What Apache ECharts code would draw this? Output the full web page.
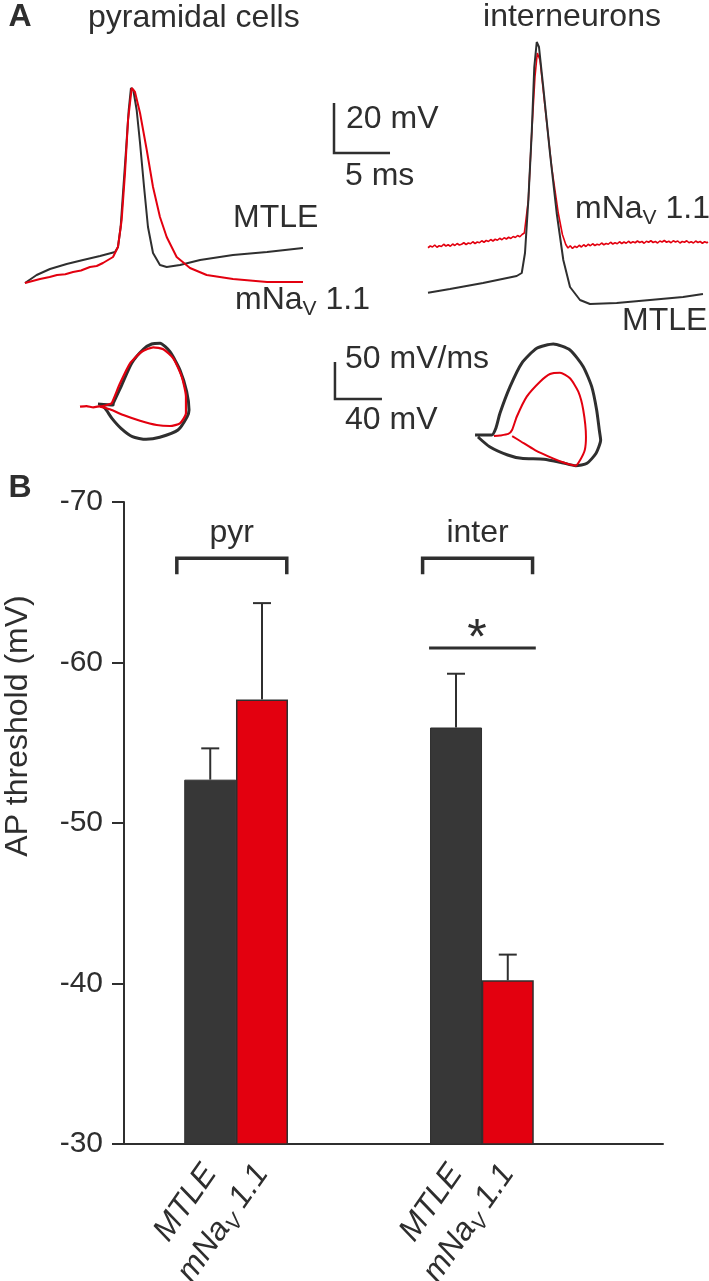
<!DOCTYPE html>
<html><head><meta charset="utf-8">
<script src="https://cdn.jsdelivr.net/npm/echarts@6/dist/echarts.min.js"></script>
<style>html,body{margin:0;padding:0;background:#fff}#c{width:709px;height:1281px}</style>
</head><body><div id="c"></div><script>
// ---------------- DATA ----------------
// Panel B: AP threshold (mV), mean and SEM
const groups = ['pyr', 'inter'];
const conditions = ['MTLE', 'mNaV 1.1'];
const mtleMean = [-52.7, -55.95];
const mtleSem = [1.95, 3.35];
const navMean = [-57.7, -40.2];
const navSem = [6.0, 1.6];
const significant = [false, true];
const yTicks = [-70, -60, -50, -40, -30];

// Panel A: example action potentials [time (ms), membrane potential (mV)]
const pyrTraceMTLE = [[0,-68.4],[1.04,-65.2],[2.23,-62.8],[3.72,-60.8],[5.18,-59.2],[6.70,-57.6],[8.04,-56.0],[8.30,-54.0],[8.54,-46.0],[8.75,-32.4],[9.02,-15.2],[9.26,0.8],[9.46,9.6],[9.67,8.8],[9.97,0.8],[10.27,-12.4],[10.63,-30.0],[10.98,-46.0],[11.43,-56.4],[12.05,-61.2],[12.65,-62.0],[13.84,-61.2],[15.63,-59.2],[18.57,-57.2],[21.61,-56.0],[24.82,-54.4]];
const pyrTraceNav = [[0,-68.4],[1.34,-66.8],[2.2,-66.0],[2.86,-65.2],[3.6,-64.9],[4.29,-64.0],[5.0,-63.4],[5.80,-62.0],[6.4,-61.6],[6.96,-60.4],[7.86,-58.0],[8.30,-54.0],[8.63,-43.2],[8.93,-24.4],[9.20,-3.2],[9.53,9.6],[9.82,8.0],[10.27,-0.4],[10.87,-15.2],[11.43,-30.0],[12.05,-42.0],[12.65,-50.0],[13.54,-58.0],[14.73,-62.4],[16.22,-65.2],[18.57,-66.8],[21.61,-68.0],[24.82,-68.0]];
const interTraceMTLE = [[0,-92.3],[1.96,-90.8],[4.91,-88.4],[7.92,-85.6],[8.37,-84.4],[8.66,-76.4],[8.96,-55.2],[9.26,-28.4],[9.49,-2.0],[9.71,8.0],[9.91,6.0],[10.29,-10.0],[10.89,-36.4],[11.49,-60.4],[12.08,-79.2],[12.68,-90.0],[13.57,-95.2],[14.46,-96.8],[16.85,-96.4],[19.82,-95.2],[22.77,-94.0],[24.55,-92.8]];
const interTraceNav = [[0.0,-74.3],[0.2,-73.6],[0.4,-74.0],[0.6,-73.2],[0.8,-74.1],[1.0,-73.5],[1.2,-73.8],[1.4,-72.9],[1.6,-73.6],[1.8,-73.1],[2.0,-73.7],[2.2,-72.8],[2.4,-73.4],[2.6,-72.6],[2.8,-73.2],[3.0,-72.9],[3.2,-72.3],[3.4,-73.0],[3.6,-72.4],[3.8,-72.7],[4.0,-71.9],[4.2,-72.6],[4.4,-72.0],[4.6,-72.3],[4.8,-71.5],[5.0,-72.1],[5.2,-71.4],[5.4,-71.8],[5.6,-71.0],[5.8,-71.6],[6.0,-70.9],[6.2,-71.3],[6.4,-70.5],[6.6,-71.1],[6.8,-70.3],[7.0,-70.8],[7.2,-70.1],[7.4,-70.6],[7.6,-69.8],[7.8,-70.2],[8.0,-69.4],[8.2,-69.9],[8.4,-69.0],[8.6,-68.4],[8.96,-55.2],[9.26,-28.4],[9.55,-6.0],[9.76,3.6],[10.0,0.8],[10.45,-18.0],[11.04,-42.0],[11.63,-60.4],[12.0,-69.0],[12.3,-73.0],[12.5,-74.4],[12.7,-73.5],[12.9,-74.6],[13.1,-73.7],[13.3,-74.2],[13.5,-73.3],[13.7,-74.0],[13.9,-73.1],[14.1,-73.8],[14.3,-72.9],[14.5,-73.5],[14.7,-72.7],[14.9,-73.4],[15.1,-72.9],[15.3,-73.2],[15.5,-72.4],[15.7,-73.1],[15.9,-72.6],[16.1,-72.9],[16.3,-72.1],[16.5,-72.8],[16.7,-72.3],[16.9,-72.7],[17.1,-71.9],[17.3,-72.6],[17.5,-72.0],[17.7,-72.5],[17.9,-71.7],[18.1,-72.4],[18.3,-71.9],[18.5,-72.3],[18.7,-71.6],[18.9,-72.2],[19.1,-71.8],[19.3,-72.5],[19.5,-71.7],[19.7,-72.1],[19.9,-71.5],[20.1,-72.2],[20.3,-71.8],[20.5,-72.4],[20.7,-71.6],[20.9,-72.0],[21.1,-71.4],[21.3,-72.1],[21.5,-71.7],[21.7,-72.3],[21.9,-71.5],[22.1,-72.0],[22.3,-71.6],[22.5,-72.4],[22.7,-71.8],[22.9,-72.1],[23.1,-71.5],[23.3,-72.3],[23.5,-71.9],[23.7,-72.4],[23.9,-71.6],[24.1,-72.2],[24.3,-71.8],[24.5,-72.5],[24.7,-71.9],[24.9,-72.3],[25.0,-72.0]];

// Panel A: phase plots [membrane potential (mV), dV/dt (mV/ms)]
const pyrPhaseMTLE = [[-56.2,1.4],[-43.4,0],[-43.1,2.7],[-36.0,27.0],[-27.5,56.4],[-17.6,75.3],[-10.5,82.4],[-3.4,83.4],[5.1,72.0],[13.6,47.3],[19.3,18.0],[21.3,-6.8],[19.7,-15.8],[11.9,-33.8],[-3.6,-43.6],[-15.3,-46.4],[-26.9,-42.8],[-36.6,-31.5],[-44.3,-18.0],[-50.2,-4.5],[-54.5,0.7]];
const pyrPhaseNav = [[-71.5,-2.3],[-66,-1.5],[-60.2,-3.1],[-55,-1.8],[-51.7,-1.4],[-46.0,1.4],[-44.5,2.3],[-37.4,29.3],[-28.9,56.4],[-19.0,72.0],[-9.1,78.0],[-0.6,75.3],[7.9,63.1],[15.1,38.2],[18.7,11.2],[18.7,-11.2],[13.6,-24.7],[5.1,-28.4],[-6.2,-27.0],[-20.4,-21.2],[-34.6,-13.5],[-46.0,-5.8],[-54.5,-2.3]];
const interPhaseMTLE = [[-67.2,0],[-53.0,0],[-49.4,9.5],[-46.0,29.3],[-37.4,65.3],[-27.5,96.9],[-14.7,117.2],[-0.6,123.0],[13.6,114.9],[24.9,92.3],[32.1,65.3],[36.3,33.8],[38.7,5],[39.7,-6.8],[35.8,-24.7],[28.1,-38.2],[18.5,-41.5],[6.8,-37.4],[-8.5,-32.8],[-27.8,-31.5],[-39.4,-27.0],[-54.8,-15.8],[-64.7,-2.7]];
const interPhaseNav = [[-51.1,-1.4],[-46.0,-0.7],[-38.9,1.4],[-35.7,6.8],[-31.7,24.7],[-23.2,51.8],[-11.9,72.0],[-3.4,82.4],[5.1,84.2],[13.6,76.6],[20.7,58.5],[24.9,33.8],[27.2,-2.3],[26.2,-20.3],[22.3,-33.8],[18.5,-41.5],[9.4,-37.8],[-0.9,-31.5],[-16.2,-20.3],[-27.8,-9.1],[-35.6,-1.4]];

// Scale bars (data units)
const traceScale = { mV: 20, ms: 5 };
const phaseScale = { mVms: 50, mV: 40 };

// ---------------- LAYOUT / STYLE ----------------
const FONT = '"Liberation Sans", Arial, Helvetica, sans-serif';
const TXT = '#2e2e2e';
const DARK = '#2f2f2f';
const RED = '#e3000f';
const BAR_DARK = '#373737';
const barX = [1.6, 2.56, 6.16, 7.12];           // bar slot positions on hidden value x-axis
const traceBarAnchor = [27.59, -16.4];          // scale bar corner (ms, mV) in trace grid
const phaseBarAnchor = [145.5, 8.1];            // scale bar corner (mV, mV/ms) in phase grid
const bracketLevel = -66.5, labelLevel = -68.05, sigLevel = -60.9, starLevel = -62.0;

const richLab = {
  n: { fontSize: 32, fontFamily: FONT, color: TXT, fill: TXT, lineHeight: 40, verticalAlign: 'middle' },
  v: { fontSize: 21, fontFamily: FONT, color: TXT, fill: TXT, lineHeight: 40, verticalAlign: 'bottom' }
};
const richAxis = {
  n: { fontSize: 32, fontFamily: FONT, color: TXT, fontStyle: 'italic', lineHeight: 40, verticalAlign: 'middle' },
  v: { fontSize: 21, fontFamily: FONT, color: TXT, fontStyle: 'italic', lineHeight: 40, verticalAlign: 'bottom' }
};
function condRich(c) {
  return c === 'mNaV 1.1' ? '{n|mNa}{v|V}{n| 1.1}' : '{n|' + c + '}';
}

function hiddenAxis(idx, min, max) {
  return { gridIndex: idx, type: 'value', min: min, max: max, show: false };
}

function txt(text, x, y, opt) {
  opt = opt || {};
  return {
    type: 'text', x: x, y: y, rotation: opt.rotation || 0,
    style: {
      text: text, fill: TXT, fontSize: opt.fontSize || 32, fontFamily: FONT,
      fontWeight: opt.bold ? 'bold' : 'normal',
      align: opt.align || 'left', verticalAlign: 'middle',
      rich: opt.rich
    }
  };
}

function scaleBarRenderer(dx, dy) {
  return function (params, api) {
    const a = [api.value(0), api.value(1)];
    const p0 = api.coord(a);
    const pUp = api.coord([a[0], a[1] + dy]);
    const pRt = api.coord([a[0] + dx, a[1]]);
    return {
      type: 'polyline',
      shape: { points: [pUp, p0, pRt] },
      style: { stroke: DARK, lineWidth: 2.5, fill: null }
    };
  };
}

const lineBase = { type: 'line', showSymbol: false, symbol: 'none', animation: false, silent: true };

const barLabels = [];
groups.forEach(() => conditions.forEach(c => barLabels.push(c)));

const option = {
  animation: false,
  backgroundColor: '#fff',
  grid: [
    { left: 25, top: 62, width: 420, height: 250, containLabel: false, outerBoundsMode: 'none' },
    { left: 428, top: 12, width: 280, height: 300, containLabel: false, outerBoundsMode: 'none' },
    { left: 70, top: 294, width: 164.5, height: 222, containLabel: false, outerBoundsMode: 'none' },
    { left: 460, top: 324, width: 164.5, height: 222, containLabel: false, outerBoundsMode: 'none' },
    { left: 124, top: 502, width: 539, height: 642, containLabel: false, outerBoundsMode: 'none' }
  ],
  xAxis: [
    hiddenAxis(0, 0, 37.5),
    hiddenAxis(1, 0, 25),
    hiddenAxis(2, -80, 60),
    hiddenAxis(3, -80, 60),
    {
      gridIndex: 4, type: 'value', min: 0, max: 10,
      axisLine: { show: true, onZero: false, lineStyle: { color: DARK, width: 2 } },
      axisTick: { show: false },
      splitLine: { show: false },
      axisLabel: {
        show: true, customValues: barX, rotate: 55, margin: 24,
        formatter: function (v) {
          let i = 0, best = 1e9;
          barX.forEach((p, k) => { if (Math.abs(p - v) < best) { best = Math.abs(p - v); i = k; } });
          return condRich(barLabels[i]);
        },
        rich: richAxis
      }
    }
  ],
  yAxis: [
    hiddenAxis(0, -80, 20),
    hiddenAxis(1, -100, 20),
    hiddenAxis(2, -150, 150),
    hiddenAxis(3, -150, 150),
    {
      gridIndex: 4, type: 'value', min: yTicks[0], max: yTicks[yTicks.length - 1], interval: 10, inverse: true,
      axisLine: { show: true, onZero: false, lineStyle: { color: DARK, width: 2 } },
      axisTick: { show: true, length: 12, lineStyle: { color: DARK, width: 2 } },
      splitLine: { show: false },
      axisLabel: { fontSize: 30, fontFamily: FONT, color: TXT, margin: 21 }
    }
  ],
  graphic: [
    txt('A', 20, 17, { bold: true, align: 'center' }),
    txt('pyramidal cells', 88, 18),
    txt('interneurons', 572, 17, { align: 'center' }),
    txt('20 mV', 346, 119),
    txt('5 ms', 345, 176),
    txt('MTLE', 233, 218),
    txt('{n|mNa}{v|V}{n| 1.1}', 235, 300, { rich: richLab }),
    txt('{n|mNa}{v|V}{n| 1.1}', 575, 209, { rich: richLab }),
    txt('MTLE', 622, 321),
    txt('50 mV/ms', 345, 359),
    txt('40 mV', 345, 420),
    txt('B', 20, 488, { bold: true, align: 'center' }),
    txt('AP threshold (mV)', 18, 726, { align: 'center', rotation: Math.PI / 2 })
  ],
  series: [
    // Panel A traces
    Object.assign({}, lineBase, { xAxisIndex: 0, yAxisIndex: 0, data: pyrTraceMTLE, lineStyle: { color: DARK, width: 2 } }),
    Object.assign({}, lineBase, { xAxisIndex: 0, yAxisIndex: 0, data: pyrTraceNav, lineStyle: { color: RED, width: 2 } }),
    Object.assign({}, lineBase, { xAxisIndex: 1, yAxisIndex: 1, data: interTraceNav, lineStyle: { color: RED, width: 1.6 } }),
    Object.assign({}, lineBase, { xAxisIndex: 1, yAxisIndex: 1, data: interTraceMTLE, lineStyle: { color: DARK, width: 2 } }),
    // Phase plots
    Object.assign({}, lineBase, { xAxisIndex: 2, yAxisIndex: 2, data: pyrPhaseMTLE, smooth: 0.2, lineStyle: { color: DARK, width: 3 } }),
    Object.assign({}, lineBase, { xAxisIndex: 2, yAxisIndex: 2, data: pyrPhaseNav, smooth: 0.2, lineStyle: { color: RED, width: 2.2 } }),
    Object.assign({}, lineBase, { xAxisIndex: 3, yAxisIndex: 3, data: interPhaseMTLE, smooth: 0.2, lineStyle: { color: DARK, width: 3 } }),
    Object.assign({}, lineBase, { xAxisIndex: 3, yAxisIndex: 3, data: interPhaseNav, smooth: 0.2, lineStyle: { color: RED, width: 2 } }),
    // Scale bars
    { type: 'custom', xAxisIndex: 0, yAxisIndex: 0, data: [traceBarAnchor], renderItem: scaleBarRenderer(traceScale.ms, traceScale.mV), silent: true },
    { type: 'custom', xAxisIndex: 2, yAxisIndex: 2, data: [phaseBarAnchor], renderItem: scaleBarRenderer(phaseScale.mV, phaseScale.mVms), silent: true },
    // Panel B bars
    {
      type: 'bar', xAxisIndex: 4, yAxisIndex: 4, barWidth: 52, barGap: '-100%', clip: true,
      data: mtleMean.map((m, g) => [barX[2 * g], m]),
      itemStyle: { color: BAR_DARK, borderColor: DARK, borderWidth: 1 }
    },
    {
      type: 'bar', xAxisIndex: 4, yAxisIndex: 4, barWidth: 52, barGap: '-100%', clip: true,
      data: navMean.map((m, g) => [barX[2 * g + 1], m]),
      itemStyle: { color: RED, borderColor: DARK, borderWidth: 1.5 }
    },
    // error bars (one-sided, SEM)
    {
      type: 'custom', xAxisIndex: 4, yAxisIndex: 4, silent: true,
      data: [].concat(mtleMean.map((m, g) => [barX[2 * g], m, mtleSem[g]]), navMean.map((m, g) => [barX[2 * g + 1], m, navSem[g]])),
      renderItem: function (params, api) {
        const x = api.value(0), m = api.value(1), s = api.value(2);
        const b = api.coord([x, m]);
        const t = api.coord([x, m - s]);
        const st = { stroke: DARK, lineWidth: 2 };
        return {
          type: 'group', children: [
            { type: 'line', shape: { x1: b[0], y1: b[1], x2: t[0], y2: t[1] }, style: st },
            { type: 'line', shape: { x1: t[0] - 9, y1: t[1], x2: t[0] + 9, y2: t[1] }, style: st }
          ]
        };
      }
    },
    // group brackets and significance
    {
      type: 'custom', xAxisIndex: 4, yAxisIndex: 4, silent: true,
      data: groups.map((g, i) => [i, -70]),
      renderItem: function (params, api) {
        const g = params.dataIndex;
        const pL = api.coord([barX[2 * g] - 0.62, bracketLevel]);
        const pR = api.coord([barX[2 * g + 1] + 0.46, bracketLevel]);
        const pT = api.coord([(barX[2 * g] - 0.62 + barX[2 * g + 1] + 0.46) / 2, labelLevel]);
        const kids = [
          { type: 'polyline', shape: { points: [[pL[0], pL[1] + 16], [pL[0], pL[1]], [pR[0], pR[1]], [pR[0], pR[1] + 16]] },
            style: { stroke: DARK, lineWidth: 3.5, fill: null } },
          { type: 'text', style: { text: groups[g], x: pT[0], y: pT[1], fill: TXT, fontSize: 32, fontFamily: FONT, align: 'center', verticalAlign: 'middle' } }
        ];
        if (significant[g]) {
          const s1 = api.coord([barX[2 * g] - 0.5, sigLevel]);
          const s2 = api.coord([barX[2 * g + 1] + 0.52, sigLevel]);
          const sc = api.coord([(barX[2 * g] - 0.5 + barX[2 * g + 1] + 0.52) / 2 - 0.1, starLevel]);
          kids.push({ type: 'line', shape: { x1: s1[0], y1: s1[1], x2: s2[0], y2: s2[1] }, style: { stroke: DARK, lineWidth: 3 } });
          kids.push({ type: 'text', style: { text: '*', x: sc[0], y: sc[1] + 10, fill: TXT, fontSize: 50, fontFamily: FONT, align: 'center', verticalAlign: 'middle' } });
        }
        return { type: 'group', children: kids };
      }
    }
  ]
};

const chart = echarts.init(document.getElementById('c'), null, { renderer: 'canvas', width: 709, height: 1281 });
chart.setOption(option);
</script></body></html>
